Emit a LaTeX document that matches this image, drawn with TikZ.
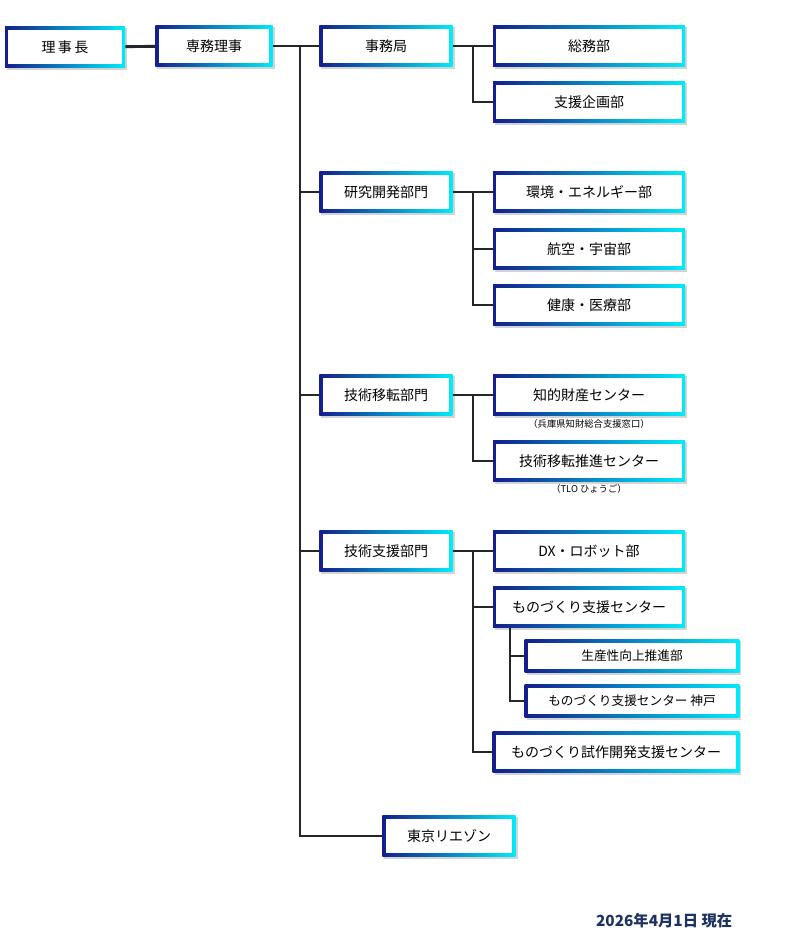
\documentclass[tikz,border=0pt]{standalone}
\usepackage{fontspec}
\setmainfont{Noto Sans CJK JP}
\usetikzlibrary{calc, shadows}
\definecolor{BoxNavy}{RGB}{20,30,140}
\definecolor{BoxCyan}{RGB}{0,235,250}
\definecolor{LineGray}{RGB}{35,38,42}
\definecolor{DateNavy}{RGB}{30,50,95}
\tikzset{
  org/.style={rectangle, minimum height=31pt, inner sep=0pt, font=\fontsize{10.5}{12}\selectfont,
    fill=white, drop shadow={shadow xshift=1.5pt, shadow yshift=-1.5pt, opacity=0.35},
    path picture={
      \shade[left color=BoxNavy, right color=BoxCyan] (path picture bounding box.south west) rectangle (path picture bounding box.north east);
      \fill[white] ($(path picture bounding box.south west)+(2.6pt,2.6pt)$) rectangle ($(path picture bounding box.north east)+(-2.6pt,-2.6pt)$);}},
  small/.style={org, minimum height=25pt, font=\fontsize{9.5}{11}\selectfont},
  note/.style={font=\fontsize{7}{8}\selectfont, inner sep=0pt},
  link/.style={draw=LineGray, line width=2.2pt}
}
\begin{document}
\begin{tikzpicture}[x=0.75pt, y=-0.75pt]
  \useasboundingbox (0,0) rectangle (800,950);
  % top
  \node (chief) [org, minimum width=90pt] at (65,47) {理\,事\,長};
  \node (exec) [org, minimum width=88pt] at (214,46) {専務理事};
  % departments
  \node (secr) [org, minimum width=100pt] at (386,46) {事務局};
  \node (rnd) [org, minimum width=100pt] at (386,192) {研究開発部門};
  \node (tt) [org, minimum width=100pt] at (386,395) {技術移転部門};
  \node (ts) [org, minimum width=100pt] at (386,551) {技術支援部門};
  \node (tokyo) [org, minimum width=100pt] at (449,836) {東京リエゾン};
  % sections
  \node (gen) [org, minimum width=144pt] at (589,46) {総務部};
  \node (plan) [org, minimum width=144pt] at (589,102) {支援企画部};
  \node (env) [org, minimum width=144pt] at (589,192) {環境・エネルギー部};
  \node (aero) [org, minimum width=144pt] at (589,249) {航空・宇宙部};
  \node (med) [org, minimum width=144pt] at (589,305) {健康・医療部};
  \node (ip) [org, minimum width=144pt] at (589,395) {知的財産センター};
  \node (ipnote) [note] at (589,424) {（兵庫県知財総合支援窓口）};
  \node (tlo) [org, minimum width=144pt] at (589,461) {技術移転推進センター};
  \node (tlonote) [note] at (589,489) {（TLO ひょうご）};
  \node (dx) [org, minimum width=144pt] at (589,551) {DX・ロボット部};
  \node (mono) [org, minimum width=144pt] at (589,607) {ものづくり支援センター};
  \node (prod) [small, minimum width=161pt] at (632,656) {生産性向上推進部};
  \node (kobe) [small, minimum width=161pt] at (632,701) {ものづくり支援センター 神戸};
  \node (proto) [org, minimum width=185pt] at (616,752) {ものづくり試作開発支援センター};
  % date
  \node (date) [text=DateNavy, font=\fontsize{11.5}{13}\selectfont\bfseries, anchor=east] at (737,921) {2026年4月1日 現在};
  % connectors
  \coordinate (trunk) at (300,46);
  \coordinate (jsecr) at (473,46);
  \coordinate (jrnd) at (473,192);
  \coordinate (jtt) at (473,395);
  \coordinate (jts) at (473,551);
  \coordinate (jmono) at (510,607);
  \draw [link] (chief) -- (exec);
  \draw [link] (exec) -- (trunk) |- (tokyo);
  \foreach \d in {secr, rnd, tt, ts}
    \draw [link] (trunk) |- (\d);
  \draw [link] (secr) -- (gen);
  \draw [link] (jsecr) |- (plan);
  \draw [link] (rnd) -- (env);
  \foreach \s in {aero, med}
    \draw [link] (jrnd) |- (\s);
  \draw [link] (tt) -- (ip);
  \draw [link] (jtt) |- (tlo);
  \draw [link] (ts) -- (dx);
  \foreach \s in {mono, proto}
    \draw [link] (jts) |- (\s);
  \draw [link] (jmono |- mono.south) |- (prod);
  \draw [link] (jmono |- mono.south) |- (kobe);
\end{tikzpicture}
\end{document}
